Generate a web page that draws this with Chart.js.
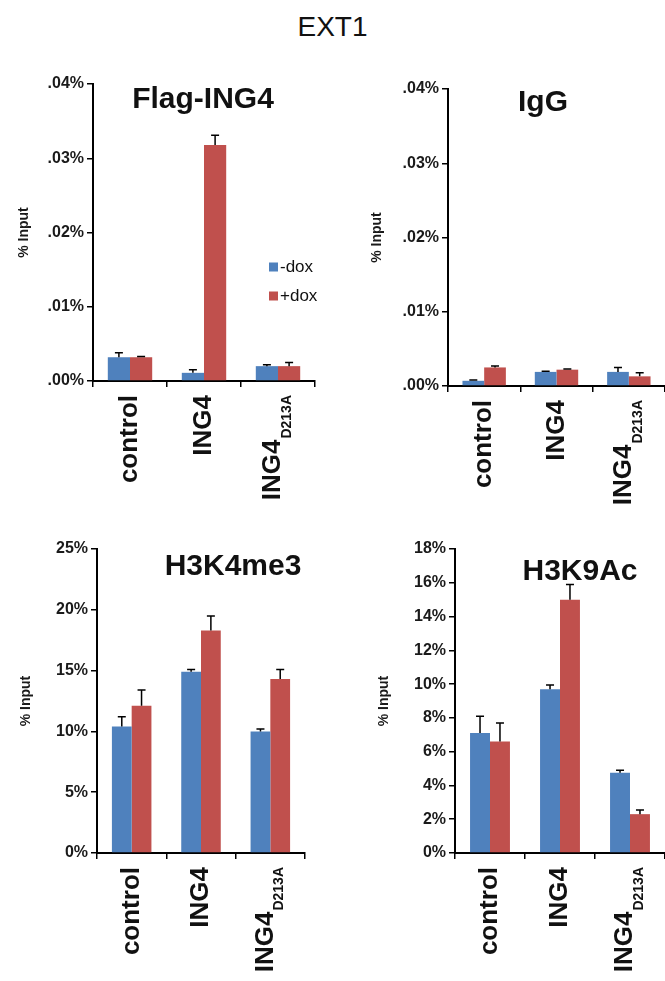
<!DOCTYPE html>
<html>
<head>
<meta charset="utf-8">
<script src="https://cdn.jsdelivr.net/npm/chart.js@4.4.1/dist/chart.umd.min.js"></script>
<style>
html, body { margin: 0; padding: 0; background: #fff; }
body { width: 665px; height: 981px; position: relative; overflow: hidden; font-family: "Liberation Sans", Arial, sans-serif; }
#main { position: absolute; left: 0; top: 13px; width: 665px; text-align: center; font-size: 28px; line-height: 28px; color: #111; }
canvas { position: absolute; }
</style>
</head>
<body>
<div id="main">EXT1</div>
<canvas id="c1" width="330" height="460" style="left:0;top:60px"></canvas>
<canvas id="c2" width="330" height="460" style="left:335px;top:60px"></canvas>
<canvas id="c3" width="330" height="461" style="left:0;top:520px"></canvas>
<canvas id="c4" width="330" height="461" style="left:335px;top:520px"></canvas>
<script>
// categories (main text + subscript)
var catMain = ['control', 'ING4', 'ING4'];
var catSub = ['', '', 'D213A'];
var seriesNames = ['-dox', '+dox'];

// Flag-ING4 (% input)
var flagMinus = [0.0032, 0.0011, 0.0020];
var flagMinusErr = [0.0006, 0.0004, 0.0002];
var flagPlus = [0.0032, 0.0318, 0.0020];
var flagPlusErr = [0.0001, 0.0013, 0.0005];

// IgG
var iggMinus = [0.0007, 0.0019, 0.0019];
var iggMinusErr = [0.0001, 0.0001, 0.0006];
var iggPlus = [0.0025, 0.0022, 0.0013];
var iggPlusErr = [0.0002, 0.0001, 0.0005];

// H3K4me3
var k4Minus = [10.4, 14.9, 10.0];
var k4MinusErr = [0.8, 0.2, 0.2];
var k4Plus = [12.1, 18.3, 14.3];
var k4PlusErr = [1.3, 1.2, 0.8];

// H3K9Ac
var k9Minus = [7.1, 9.7, 4.75];
var k9MinusErr = [1.0, 0.25, 0.15];
var k9Plus = [6.6, 15.0, 2.3];
var k9PlusErr = [1.1, 0.9, 0.25];

var BLUE = '#4F81BD';
var RED = '#C0504D';
var FONT = '"Liberation Sans", Arial, sans-serif';

// error bars, in-plot title, rotated category labels, legend
var extras = {
    id: 'extras',
    afterDatasetsDraw: function(chart) {
        var o = chart.options.plugins.extras;
        var ctx = chart.ctx;
        var xs = chart.scales.x, ys = chart.scales.y;
        var area = chart.chartArea;
        ctx.save();
        ctx.strokeStyle = '#000';
        ctx.lineWidth = 1.5;
        chart.data.datasets.forEach(function(ds, di) {
            chart.getDatasetMeta(di).data.forEach(function(bar, i) {
                var top = ys.getPixelForValue(ds.data[i] + ds.errors[i]);
                ctx.beginPath();
                ctx.moveTo(bar.x, bar.y);
                ctx.lineTo(bar.x, top);
                ctx.moveTo(bar.x - 4, top);
                ctx.lineTo(bar.x + 4, top);
                ctx.stroke();
            });
        });

        ctx.fillStyle = '#111';
        ctx.font = 'bold 30px ' + FONT;
        ctx.textAlign = 'center';
        ctx.textBaseline = 'alphabetic';
        ctx.fillText(o.title, area.left + o.titleX, area.top + o.titleY);

        // category labels, rotated
        catMain.forEach(function(txt, i) {
            var cx = xs.getPixelForValue(i);
            ctx.save();
            ctx.translate(cx, area.bottom + 14);
            ctx.rotate(-Math.PI / 2);
            ctx.textAlign = 'right';
            if (catSub[i]) {
                ctx.font = 'bold 14px ' + FONT;
                ctx.textBaseline = 'alphabetic';
                var w = ctx.measureText(catSub[i]).width;
                ctx.fillText(catSub[i], 0, 13);
                ctx.font = 'bold 26px ' + FONT;
                ctx.textBaseline = 'middle';
                ctx.fillText(txt, -w - 1, -5);
            } else {
                ctx.font = 'bold 26px ' + FONT;
                ctx.textBaseline = 'middle';
                ctx.fillText(txt, 0, 0);
            }
            ctx.restore();
        });

        if (o.legend) {
            ctx.font = '17px ' + FONT;
            ctx.textAlign = 'left';
            ctx.textBaseline = 'middle';
            chart.data.datasets.forEach(function(ds, di) {
                var lx = area.left + 176, ly = area.top + 183 + di * 29;
                ctx.fillStyle = ds.backgroundColor;
                ctx.fillRect(lx, ly - 4.5, 9, 9);
                ctx.fillStyle = '#111';
                ctx.fillText(ds.label, lx + 11, ly);
            });
        }
        ctx.restore();
    }
};

function makePanel(id, p) {
    new Chart(document.getElementById(id), {
        type: 'bar',
        data: {
            labels: catMain.map(function(c, i) { return c + (catSub[i] ? ' ' + catSub[i] : ''); }),
            datasets: [
                { label: seriesNames[0], data: p.minus, errors: p.minusErr, backgroundColor: BLUE },
                { label: seriesNames[1], data: p.plus, errors: p.plusErr, backgroundColor: RED }
            ]
        },
        options: {
            responsive: false,
            animation: false,
            layout: { padding: { top: p.padTop, right: p.padRight, left: 0, bottom: 0 } },
            datasets: { bar: { categoryPercentage: p.catPct, barPercentage: 1.0 } },
            plugins: {
                legend: { display: false },
                tooltip: { enabled: false },
                extras: { title: p.title, titleX: p.titleX, titleY: p.titleY, legend: p.legend }
            },
            scales: {
                x: {
                    ticks: { display: false },
                    grid: { offset: true, drawOnChartArea: false, drawTicks: true, tickLength: 6, color: '#000', lineWidth: 1.5 },
                    border: { display: true, color: '#000', width: 2 },
                    afterFit: function(s) { s.height = p.xHeight; }
                },
                y: {
                    min: 0,
                    max: p.max,
                    ticks: {
                        stepSize: p.step,
                        color: '#1a1a1a',
                        font: { family: FONT, size: 16, weight: 'bold' },
                        padding: 3,
                        callback: p.fmt
                    },
                    grid: { drawOnChartArea: false, drawTicks: true, tickLength: 6, color: '#000', lineWidth: 1.5 },
                    border: { display: true, color: '#000', width: 2 },
                    title: {
                        display: true,
                        text: '% Input',
                        color: '#1a1a1a',
                        font: { family: FONT, size: 14, weight: 'bold' },
                        padding: { top: p.yTitlePad, bottom: 0 }
                    },
                    afterFit: function(s) { s.width = p.yWidth; }
                }
            }
        },
        plugins: [extras]
    });
}

function fmtSmall(v) { return v.toFixed(2).replace(/^0/, '') + '%'; }
function fmtInt(v) { return Math.round(v) + '%'; }

makePanel('c1', {
    title: 'Flag-ING4', titleX: 110, titleY: 24, legend: true,
    minus: flagMinus, minusErr: flagMinusErr, plus: flagPlus, plusErr: flagPlusErr,
    max: 0.04, step: 0.01, fmt: fmtSmall, catPct: 0.6,
    padTop: 24, padRight: 15, yWidth: 93, xHeight: 139, yTitlePad: 16
});
makePanel('c2', {
    title: 'IgG', titleX: 95, titleY: 22, legend: false,
    minus: iggMinus, minusErr: iggMinusErr, plus: iggPlus, plusErr: iggPlusErr,
    max: 0.04, step: 0.01, fmt: fmtSmall, catPct: 0.6,
    padTop: 29, padRight: 0, yWidth: 113, xHeight: 134, yTitlePad: 34
});
makePanel('c3', {
    title: 'H3K4me3', titleX: 136, titleY: 26, legend: false,
    minus: k4Minus, minusErr: k4MinusErr, plus: k4Plus, plusErr: k4PlusErr,
    max: 25, step: 5, fmt: fmtInt, catPct: 0.57,
    padTop: 29, padRight: 25, yWidth: 97, xHeight: 128, yTitlePad: 18
});
makePanel('c4', {
    title: 'H3K9Ac', titleX: 125, titleY: 31, legend: false,
    minus: k9Minus, minusErr: k9MinusErr, plus: k9Plus, plusErr: k9PlusErr,
    max: 18, step: 2, fmt: fmtInt, catPct: 0.57,
    padTop: 29, padRight: 0, yWidth: 120, xHeight: 128, yTitlePad: 41
});
</script>
</body>
</html>
